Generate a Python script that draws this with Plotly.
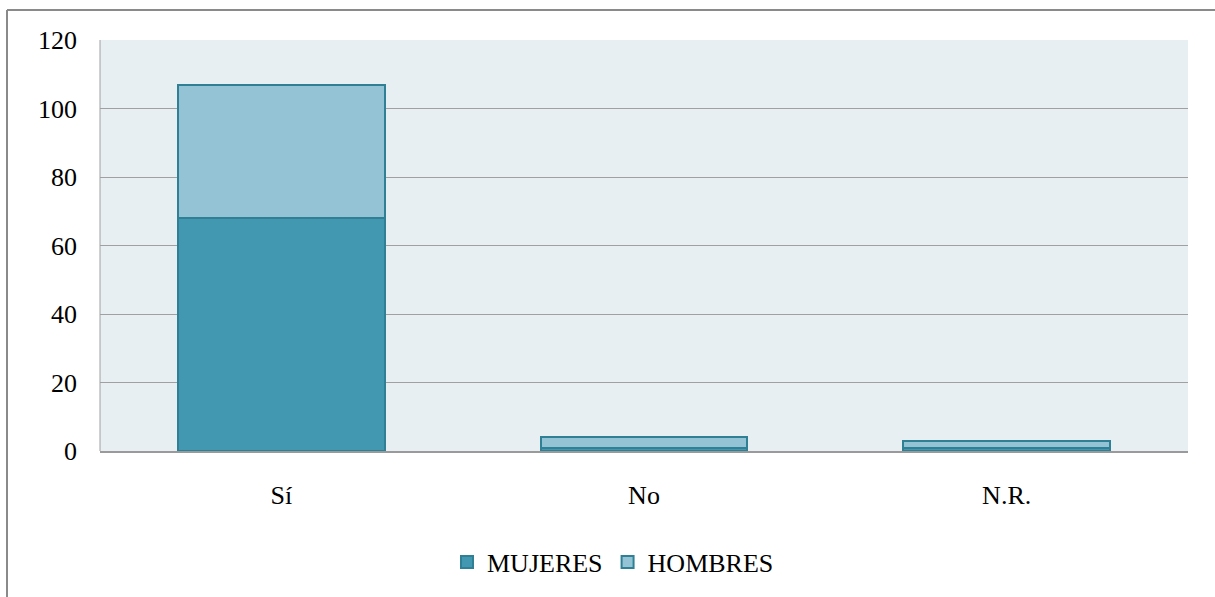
import plotly.graph_objects as go

categories = ["Sí", "No", "N.R."]
mujeres = [68, 1, 1]
hombres = [39, 3, 2]
y_ticks = [0, 20, 40, 60, 80, 100, 120]

W, H = 1215, 597
L, R, T, B = 100, 27, 40, 146
pw, ph = W - L - R, H - T - B

font = dict(family="'Liberation Serif', 'Times New Roman', Times, serif", size=26, color="#000000")

fig = go.Figure()
fig.add_trace(go.Bar(
    name="MUJERES", x=categories, y=mujeres,
    marker=dict(color="#4198B0", line=dict(color="#2F7F95", width=2)),
    width=0.57,
))
fig.add_trace(go.Bar(
    name="HOMBRES", x=categories, y=hombres,
    marker=dict(color="#93C3D5", line=dict(color="#2F7F95", width=2)),
    width=0.57,
))

def px_x(p):
    return (p - L) / pw

def px_y(p):
    return (H - B - p) / ph

# outer chart frame (top and left edges)
frame = dict(color="#8A8A8A", width=2)
fig.add_shape(type="line", xref="paper", yref="paper",
              x0=px_x(7), x1=px_x(W + 5), y0=px_y(10), y1=px_y(10), line=frame)
fig.add_shape(type="line", xref="paper", yref="paper",
              x0=px_x(7), x1=px_x(7), y0=px_y(10), y1=px_y(H + 5), line=frame)
# left border of the plot area
fig.add_shape(type="line", xref="paper", yref="paper",
              x0=0, x1=0, y0=0, y1=1, line=dict(color="#A0A0A0", width=1), layer="below")

fig.update_layout(
    width=W, height=H,
    margin=dict(l=L, r=R, t=T, b=B),
    barmode="stack",
    paper_bgcolor="#FFFFFF",
    plot_bgcolor="#E8EFF3",
    font=font,
    showlegend=True,
    legend=dict(orientation="h", x=px_x(613), xanchor="center", y=px_y(562), yanchor="middle",
                font=font, itemwidth=30, traceorder="normal"),
    xaxis=dict(showgrid=False, showline=True, linecolor="#9A9A9A", linewidth=2,
               ticks="", ticklabelstandoff=20, tickfont=font),
    yaxis=dict(range=[0, 120], tickvals=y_ticks, showgrid=True, gridcolor="#A0A0A0",
               gridwidth=1, zeroline=False, showline=False, ticks="",
               ticklabelstandoff=22, tickfont=font),
)

fig.write_html("out.html")
